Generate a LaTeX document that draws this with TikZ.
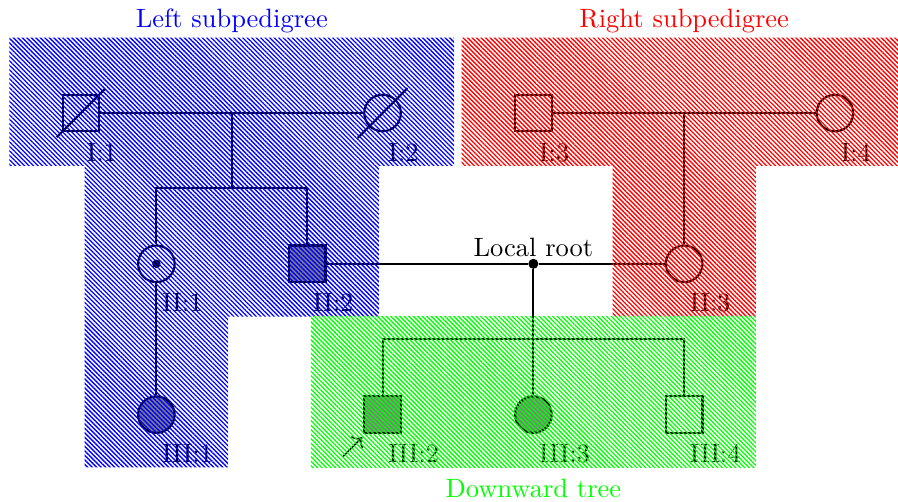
\documentclass[tikz,border=0pt]{standalone}
\usetikzlibrary{patterns.meta,arrows.meta}
\begin{document}
\begin{tikzpicture}[
  conn/.style={line width=0.8pt},
  male/.style={draw, line width=0.8pt, rectangle, minimum size=13.8pt, inner sep=0pt},
  female/.style={draw, line width=0.8pt, circle, minimum size=13.8pt, inner sep=0pt},
  affected/.style={fill=gray},
  lab/.style={anchor=north west, inner sep=0pt},
  rootdot/.style={circle, fill=black, minimum size=3.8pt, inner sep=0pt},
  hatch/.style={pattern={Lines[angle=-45,distance=1.2pt,line width=0.5pt]}, pattern color=#1},
  title/.style={anchor=base, text=#1}
]
\useasboundingbox (-1.074,1.499) rectangle (10.836,-5.146);

% generation I
\node[male] (I1) at (0,0) {};
\node[female] (I2) at (4,0) {};
\node[male] (I3) at (6,0) {};
\node[female] (I4) at (10,0) {};
% generation II
\node[female] (II1) at (1,-2) {};
\node[male, affected] (II2) at (3,-2) {};
\node[female] (II3) at (8,-2) {};
\node[rootdot] (root) at (6,-2) {};
% generation III
\node[female, affected] (III1) at (1,-4) {};
\node[male, affected] (III2) at (4,-4) {};
\node[female, affected] (III3) at (6,-4) {};
\node[male] (III4) at (8,-4) {};

% helper coordinates
\coordinate (m1) at (2,0);
\coordinate (s1) at (2,-1);
\coordinate (s1L) at (1,-1);
\coordinate (s1R) at (3,-1);
\coordinate (m2) at (8,0);
\coordinate (s3) at (6,-3);
\coordinate (s3L) at (4,-3);
\coordinate (s3R) at (8,-3);

% connectors
\draw[conn] (I1) -- (I2);
\draw[conn] (m1) -- (s1);
\draw[conn] (II1) -- (s1L) -- (s1R) -- (II2);
\draw[conn] (I3) -- (I4);
\draw[conn] (m2) -- (II3);
\draw[conn] (II1) -- (III1);
\draw[conn] (II2) -- (root) -- (II3);
\draw[conn] (root) -- (s3);
\draw[conn] (III2) -- (s3L) -- (s3R) -- (III4);
\draw[conn] (s3) -- (III3);

% deceased marks
\draw[conn] ([shift={(-0.32,-0.32)}]I1.center) -- ([shift={(0.32,0.32)}]I1.center);
\draw[conn] ([shift={(-0.33,-0.33)}]I2.center) -- ([shift={(0.33,0.33)}]I2.center);
% carrier dot
\fill (II1.center) circle (1.6pt);
% proband arrow
\draw[line width=0.6pt, -{To[length=3pt]}] ([shift={(-0.53,-0.56)}]III2.center) -- ([shift={(-0.27,-0.30)}]III2.center);

% labels
\node[lab] (lI1) at ([shift={(0.07,-0.39)}]I1.center) {I:1};
\node[lab] (lI2) at ([shift={(0.07,-0.39)}]I2.center) {I:2};
\node[lab] (lI3) at ([shift={(0.07,-0.39)}]I3.center) {I:3};
\node[lab] (lI4) at ([shift={(0.07,-0.39)}]I4.center) {I:4};
\node[lab] (lII1) at ([shift={(0.07,-0.39)}]II1.center) {II:1};
\node[lab] (lII2) at ([shift={(0.07,-0.39)}]II2.center) {II:2};
\node[lab] (lII3) at ([shift={(0.07,-0.39)}]II3.center) {II:3};
\node[lab] (lIII1) at ([shift={(0.07,-0.39)}]III1.center) {III:1};
\node[lab] (lIII2) at ([shift={(0.07,-0.39)}]III2.center) {III:2};
\node[lab] (lIII3) at ([shift={(0.07,-0.39)}]III3.center) {III:3};
\node[lab] (lIII4) at ([shift={(0.07,-0.39)}]III4.center) {III:4};
\node[anchor=base, inner sep=0pt] (lroot) at ([yshift=2.6pt]root.center) {Local root};

% hatched regions on top
\fill[hatch=blue] (-0.95,1) -- (4.95,1) -- (4.95,-0.7) -- (3.95,-0.7) -- (3.95,-2.7) -- (1.95,-2.7) -- (1.95,-4.7) -- (0.05,-4.7) -- (0.05,-0.7) -- (-0.95,-0.7) -- cycle;
\fill[hatch=red] (5.05,1) -- (10.95,1) -- (10.95,-0.7) -- (8.95,-0.7) -- (8.95,-2.7) -- (7.05,-2.7) -- (7.05,-0.7) -- (5.05,-0.7) -- cycle;
\fill[hatch=green] (3.05,-2.7) rectangle (8.95,-4.7);

% titles
\node[title=blue] (tL) at (2,1.131) {Left subpedigree};
\node[title=red] (tR) at (8,1.131) {Right subpedigree};
\node[title=green] (tD) at (6,-5.093) {Downward tree};
\end{tikzpicture}
\end{document}
